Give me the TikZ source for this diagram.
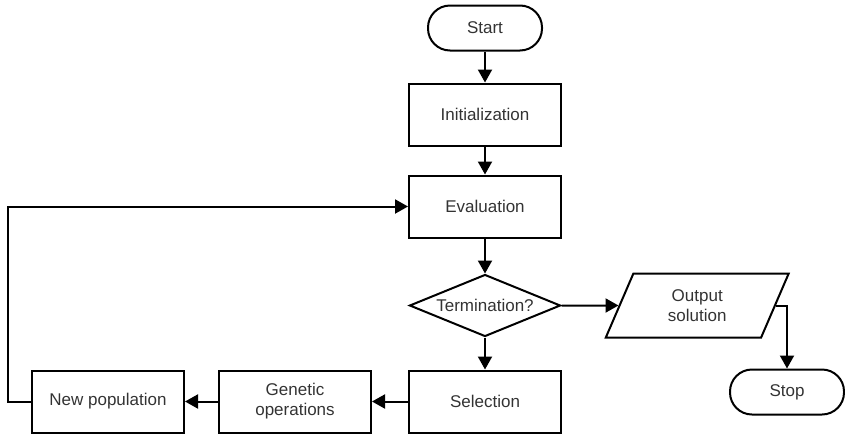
\documentclass[tikz,border=0pt]{standalone}
\usepackage{fontspec}
\setmainfont{Liberation Sans}
\usetikzlibrary{arrows.meta,positioning,shapes.geometric}

\begin{document}
\begin{tikzpicture}[
    x=1pt, y=1pt,
    node distance=31pt and 36pt,
    every node/.style={font=\fontsize{17}{20}\selectfont, text=black!80},
    term/.style={rectangle, draw, line width=2pt, rounded corners=22pt, minimum width=114pt, minimum height=45pt},
    proc/.style={rectangle, draw, line width=2pt, minimum width=152pt, minimum height=62pt, align=center},
    decide/.style={diamond, draw, line width=2pt, aspect=2.4, inner sep=1pt, minimum width=151pt, minimum height=62pt},
    io/.style={trapezium, draw, line width=2pt, trapezium left angle=70, trapezium right angle=110, trapezium stretches=true, minimum width=183pt, minimum height=64pt, align=center},
    flow/.style={line width=2pt, -{Triangle[length=13pt,width=14pt]}}
  ]
    \useasboundingbox (0,0) rectangle (845,-437);
    \node[term] (start) at (485,-28) {Start};
    \node[proc, below=of start] (init) {Initialization};
    \node[proc, below=28pt of init] (eval) {Evaluation};
    \node[decide, below=35pt of eval] (term) {Termination?};
    \node[proc, below=32pt of term] (sel) {Selection};
    \node[proc, left=36pt of sel] (gen) {Genetic\\operations};
    \node[proc, left=33pt of gen] (newpop) {New population};
    \node[io, right=57pt of term] (out) {Output\\solution};
    \node[term, below=63pt of out.east, xshift=11pt] (stop) {Stop};

    \draw[flow] (start) -- (init);
    \draw[flow] (init) -- (eval);
    \draw[flow] (eval) -- (term);
    \draw[flow] (term) -- (sel);
    \draw[flow] (term) -- (out);
    \draw[flow] (out.east) -| (stop.north);
    \draw[flow] (sel) -- (gen);
    \draw[flow] (gen) -- (newpop);
    \draw[flow] (newpop.west) -- ++(-23,0) |- (eval.west);
\end{tikzpicture}
\end{document}
